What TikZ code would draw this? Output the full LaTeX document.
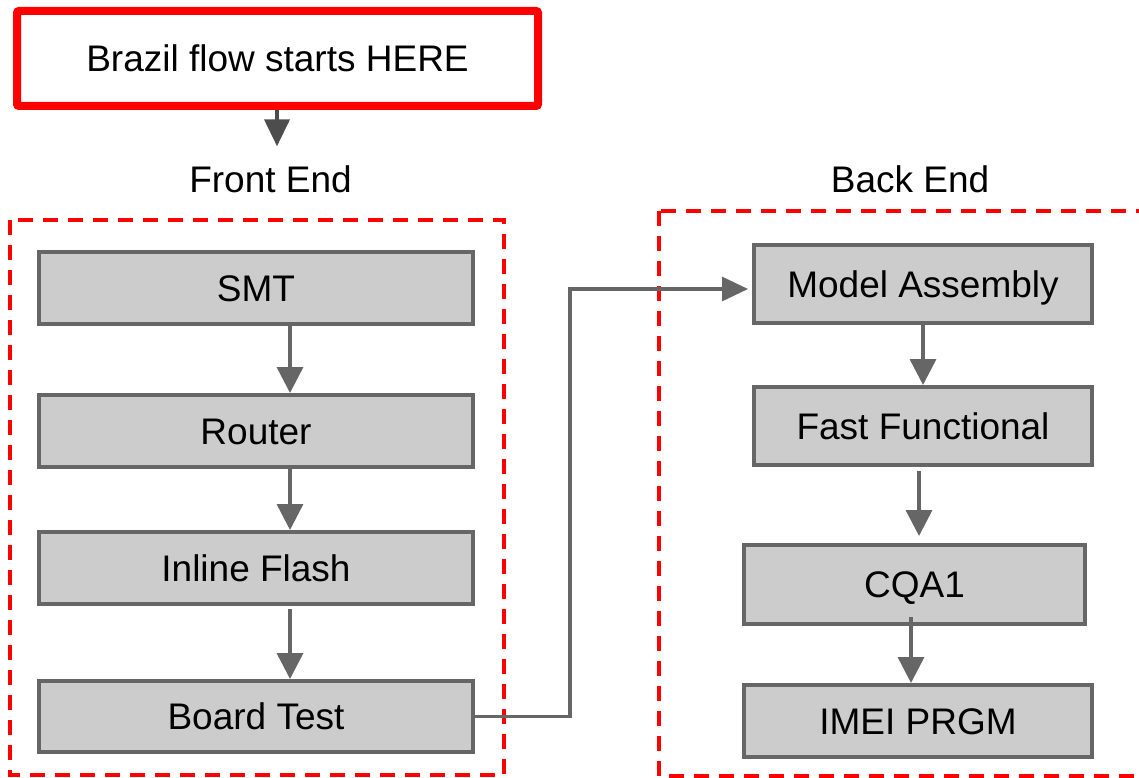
\documentclass[tikz,border=0pt]{standalone}
\usepackage{fontspec}
\setmainfont{Liberation Sans}
\usetikzlibrary{arrows.meta}
\definecolor{boxfill}{HTML}{CCCCCC}
\definecolor{boxline}{HTML}{666666}
\definecolor{darkarrow}{HTML}{4D4D4D}
\definecolor{flowred}{HTML}{FF0000}
\begin{document}
\begin{tikzpicture}[x=1pt,y=-1pt,
  every node/.style={font=\fontsize{37}{44}\selectfont, inner sep=0pt},
  stepbox/.style={draw=boxline, fill=boxfill, line width=4pt, rectangle,
    text height=26pt, text depth=0pt},
  flowarrow/.style={draw=boxline, line width=3.5pt, -{Triangle[length=26pt,width=26pt]}},
  conn/.style={draw=boxline, line width=3.2pt, -{Triangle[length=26pt,width=24pt]}},
  darkflow/.style={draw=darkarrow, line width=4pt, -{Triangle[length=27pt,width=25pt]}},
  groupbox/.style={draw=flowred, line width=4pt, dash pattern=on 15pt off 10pt},
  startbox/.style={draw=flowred, line width=8pt, rounded corners=2pt, rectangle,
    minimum width=521pt, minimum height=95pt, text height=26pt, text depth=0pt},
  label/.style={text height=26pt, text depth=0pt}
]
\useasboundingbox (0,0) rectangle (1139,778);

% group frames
\draw[groupbox] (10,220) rectangle (504,775);
\draw[groupbox] (659,211) rectangle (1165,776);

% start box
\node[startbox] (start) at (277.5,58.5) {Brazil flow starts HERE};

% headings
\node[label] (fe) at (270.5,179.5) {Front End};
\node[label] (be) at (910,179.5) {Back End};

% front end steps
\node[stepbox, minimum width=434pt, minimum height=72pt] (smt) at (256,288) {SMT};
\node[stepbox, minimum width=434pt, minimum height=72pt] (router) at (256,431) {Router};
\node[stepbox, minimum width=434pt, minimum height=72pt] (inline) at (256,568) {Inline Flash};
\node[stepbox, minimum width=434pt, minimum height=71pt] (board) at (256,716.5) {Board Test};

% back end steps
\node[stepbox, minimum width=338pt, minimum height=78pt] (ma) at (923,284) {Model Assembly};
\node[stepbox, minimum width=338pt, minimum height=78pt] (ff) at (923,426) {Fast Functional};
\node[stepbox, minimum width=341pt, minimum height=79pt] (cqa) at (914.5,584.5) {CQA1};
\node[stepbox, minimum width=348pt, minimum height=72pt] (imei) at (918,721) {IMEI PRGM};

% connector columns
\coordinate (xt) at (277,0);
\coordinate (xl) at (290,0);
\coordinate (xr1) at (923,0);
\coordinate (xr2) at (919,0);
\coordinate (xr3) at (911,0);

\draw[darkflow, shorten >=20pt] (start.south -| xt) -- (fe.north -| xt);

\draw[flowarrow] (smt.south -| xl) -- (router.north -| xl);
\draw[flowarrow] (router.south -| xl) -- (inline.north -| xl);
\draw[flowarrow, shorten <=3pt] (inline.south -| xl) -- (board.north -| xl);

\draw[flowarrow] (ma.south -| xr1) -- (ff.north -| xr1);
\draw[flowarrow, shorten <=4pt, shorten >=7pt] (ff.south -| xr2) -- (cqa.north -| xr2);
\draw[flowarrow, shorten <=-9pt] (cqa.south -| xr3) -- (imei.north -| xr3);

\draw[conn, shorten >=4pt] (board.east) -- ++(95,0) |- ([yshift=-5pt]ma.west);
\end{tikzpicture}
\end{document}
